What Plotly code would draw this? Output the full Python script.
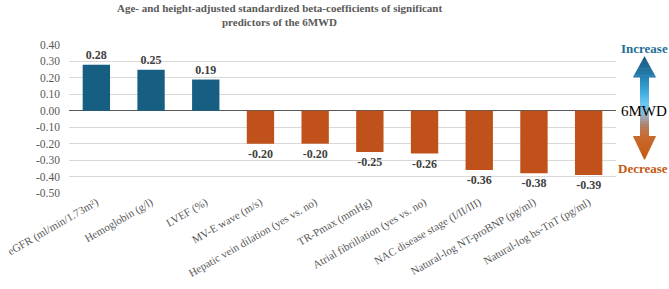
import plotly.graph_objects as go

categories = [
    "eGFR (ml/min/1.73m²)", "Hemoglobin (g/l)", "LVEF (%)", "MV-E wave (m/s)",
    "Hepatic vein dilation (yes vs. no)", "TR-Pmax (mmHg)", "Atrial fibrillation (yes vs. no)",
    "NAC disease stage (I/II/III)", "Natural-log NT-proBNP (pg/ml)", "Natural-log hs-TnT (pg/ml)",
]
beta = [0.28, 0.25, 0.19, -0.20, -0.20, -0.25, -0.26, -0.36, -0.38, -0.39]
y_ticks = [0.40, 0.30, 0.20, 0.10, 0.00, -0.10, -0.20, -0.30, -0.40, -0.50]
y_ticktext = [f"{v:.2f}" for v in y_ticks]

BLUE = "#175E83"
ORANGE = "#C0511A"
FONT = "Liberation Serif"

W, H = 669, 289
ML, MR, MT, MB = 69, 53, 45, 96
PW, PH = W - ML - MR, H - MT - MB


def px(x):
    return (x - ML) / PW


def py(y):
    return (H - MB - y) / PH


colors = [BLUE if v > 0 else ORANGE for v in beta]

fig = go.Figure()
fig.add_trace(go.Bar(
    x=categories, y=beta, marker=dict(color=colors, line=dict(width=0)),
    text=[f"{v:.2f}" for v in beta], textposition="outside", cliponaxis=False,
    textfont=dict(family=FONT, size=12, color="#404040", weight="bold"),
    hoverinfo="skip",
))

# gradient double arrow (decoration)
stops = [(56, (23, 85, 122)), (77, (37, 128, 176)), (90, (58, 163, 216)),
         (104, (108, 200, 240)), (116, (150, 175, 190)), (126, (176, 122, 96)),
         (136, (200, 106, 48)), (160, (197, 90, 17))]


def col(y):
    for (y0, c0), (y1, c1) in zip(stops, stops[1:]):
        if y0 <= y <= y1:
            t = (y - y0) / (y1 - y0)
            c = [round(a + (b - a) * t) for a, b in zip(c0, c1)]
            return f"rgb({c[0]},{c[1]},{c[2]})"
    return "rgb(197,90,17)"


cx = 644.5
segments = []
nh = 12
for i in range(nh):
    y0 = 56 + 21 * i / nh
    y1 = 56 + 21 * (i + 1) / nh
    segments.append((y0, y1 + 0.5, 11.5 * i / nh, 11.5 * (i + 1) / nh))
ns = 30
for i in range(ns):
    y0 = 77 + 59 * i / ns
    y1 = 77 + 59 * (i + 1) / ns
    segments.append((y0, y1 + 0.5, 4.5, 4.5))
nb = 12
for i in range(nb):
    y0 = 136 + 24 * i / nb
    y1 = 136 + 24 * (i + 1) / nb
    segments.append((y0, y1 + (0.5 if i < nb - 1 else 0), 11.5 * (1 - i / nb), 11.5 * (1 - (i + 1) / nb)))

shapes = []
for (y0, y1, h0, h1) in segments:
    path = (f"M {px(cx - h0)},{py(y0)} L {px(cx + h0)},{py(y0)} "
            f"L {px(cx + h1)},{py(y1)} L {px(cx - h1)},{py(y1)} Z")
    shapes.append(dict(type="path", path=path, xref="paper", yref="paper",
                       fillcolor=col((y0 + y1) / 2), line=dict(width=0), layer="above"))

fig.update_layout(
    width=W, height=H, margin=dict(l=ML, r=MR, t=MT, b=MB, autoexpand=False),
    paper_bgcolor="white", plot_bgcolor="white", showlegend=False,
    bargap=0.5,
    xaxis=dict(tickangle=-30, tickfont=dict(family=FONT, size=11, color="#595959"),
               showgrid=False, showline=False, ticks="", automargin=False),
    yaxis=dict(range=[-0.5, 0.4], tickvals=y_ticks, ticktext=y_ticktext,
               tickfont=dict(family=FONT, size=11.5, color="#595959"),
               showgrid=True, gridcolor="#D9D9D9", gridwidth=1,
               zeroline=True, zerolinecolor="#595959", zerolinewidth=1,
               ticks="", ticklabelstandoff=8, automargin=False),
    shapes=shapes,
    annotations=[
        dict(text="<b>Age- and height-adjusted standardized beta-coefficients of significant</b>",
             x=px(279), y=py(7.5), xref="paper", yref="paper", xanchor="center", yanchor="middle",
             showarrow=False, font=dict(family=FONT, size=11, color="#595959")),
        dict(text="<b>predictors of the 6MWD</b>",
             x=px(279), y=py(22), xref="paper", yref="paper", xanchor="center", yanchor="middle",
             showarrow=False, font=dict(family=FONT, size=11, color="#595959")),
        dict(text="<b>Increase</b>", x=px(644), y=py(48), xref="paper", yref="paper",
             xanchor="center", yanchor="middle",
             showarrow=False, font=dict(family=FONT, size=13, color="#1F6E96")),
        dict(text="6MWD", x=px(644), y=py(111), xref="paper", yref="paper",
             xanchor="center", yanchor="middle",
             showarrow=False, font=dict(family=FONT, size=15, color="#000000")),
        dict(text="<b>Decrease</b>", x=px(643), y=py(168), xref="paper", yref="paper",
             xanchor="center", yanchor="middle",
             showarrow=False, font=dict(family=FONT, size=13, color="#C55A11")),
    ],
)

fig.write_html("out.html")
